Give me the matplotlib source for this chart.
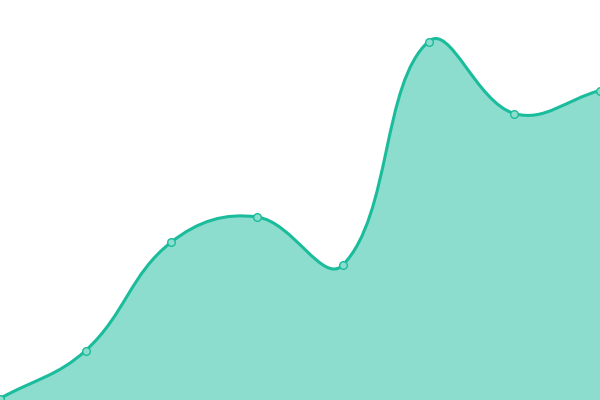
import numpy as np
import matplotlib
matplotlib.use("Agg")
from matplotlib import pyplot as plt
from matplotlib.path import Path
from matplotlib.patches import PathPatch

labels = ["1", "2", "3", "4", "5", "6", "7", "8"]
values = [1.5, 49.5, 158, 183, 135, 358.5, 286.5, 309.5]

LINE = "#1abc9c"
TENSION = 0.4


def spline_controls(xs, ys, t=TENSION):
    """control points the way Chart.js builds its bezier line"""
    pts = np.column_stack([xs, ys]).astype(float)
    n = len(pts)
    cps = []
    for i in range(n):
        prev = pts[max(i - 1, 0)]
        cur = pts[i]
        nxt = pts[min(i + 1, n - 1)]
        d01 = np.hypot(*(cur - prev))
        d12 = np.hypot(*(nxt - cur))
        tot = d01 + d12
        s01 = d01 / tot if tot else 0
        s12 = d12 / tot if tot else 0
        cp_prev = cur - t * s01 * (nxt - prev)
        cp_next = cur + t * s12 * (nxt - prev)
        cps.append((cp_prev, cp_next))
    return pts, cps


def curve_path(pts, cps, close_to=None):
    verts = [pts[0]]
    codes = [Path.MOVETO]
    for i in range(1, len(pts)):
        verts += [cps[i - 1][1], cps[i][0], pts[i]]
        codes += [Path.CURVE4] * 3
    if close_to is not None:
        verts += [(pts[-1][0], close_to), (pts[0][0], close_to), pts[0]]
        codes += [Path.LINETO, Path.LINETO, Path.CLOSEPOLY]
    return Path(verts, codes)


fig = plt.figure(figsize=(6, 4), dpi=100)
ax = fig.add_axes([0, 0, 1, 1])
ax.set_xlim(0, 600)
ax.set_ylim(0, 400)
ax.axis("off")

xs = np.linspace(0, 600, len(values))
pts, cps = spline_controls(xs, values)

ax.add_patch(PathPatch(curve_path(pts, cps, close_to=0),
                       facecolor=LINE, alpha=0.5, edgecolor="none"))
ax.add_patch(PathPatch(curve_path(pts, cps), facecolor="none",
                       edgecolor=LINE, linewidth=2.2))
ax.plot(xs, values, "o", markersize=5.5, markerfacecolor="#8cddcd",
        markeredgecolor=LINE, markeredgewidth=1, clip_on=False)

fig.savefig("out.png", dpi=100)
